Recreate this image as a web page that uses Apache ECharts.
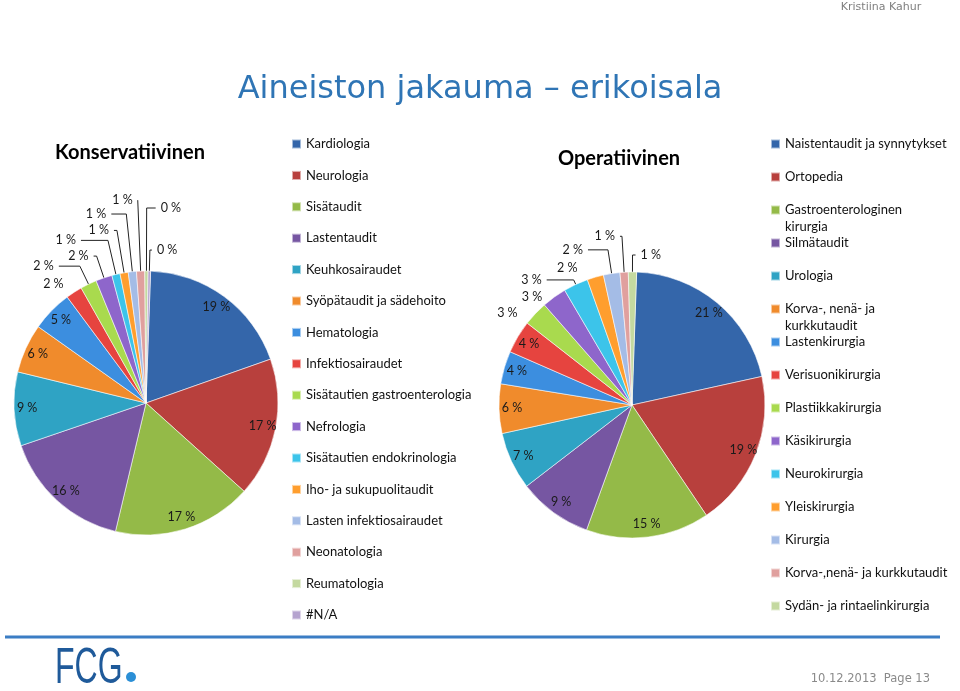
<!DOCTYPE html>
<html><head><meta charset="utf-8">
<script src="https://cdn.jsdelivr.net/npm/echarts@6/dist/echarts.min.js"></script>
<style>html,body{margin:0;padding:0;background:#fff}#c{width:960px;height:691px}</style>
</head><body><div id="c"></div>
<script>
// ---- data ----
const mainTitle = 'Aineiston jakauma – erikoisala';
const konsTitle = 'Konservatiivinen';
const opTitle = 'Operatiivinen';
const author = 'Kristiina Kahur';
const footerText = '10.12.2013  Page 13';

const konsCategories = ['Kardiologia','Neurologia','Sisätaudit','Lastentaudit','Keuhkosairaudet',
  'Syöpätaudit ja sädehoito','Hematologia','Infektiosairaudet','Sisätautien gastroenterologia','Nefrologia',
  'Sisätautien endokrinologia','Iho- ja sukupuolitaudit','Lasten infektiosairaudet','Neonatologia','Reumatologia','#N/A'];
const konsValues = [19,17,17,16,9,6,5,2,2,2,1,1,1,1,0.4,0.3];

const opCategories = ['Naistentaudit ja synnytykset','Ortopedia','Gastroenterologinen kirurgia','Silmätaudit',
  'Urologia','Korva-, nenä- ja kurkkutaudit','Lastenkirurgia','Verisuonikirurgia','Plastiikkakirurgia',
  'Käsikirurgia','Neurokirurgia','Yleiskirurgia','Kirurgia','Korva-,nenä- ja kurkkutaudit','Sydän- ja rintaelinkirurgia'];
const opValues = [21,19,15,9,7,6,4,4,3,3,3,2,2,1,1];

// legend display text for wrapped entries (leading blank line keeps the icon on the first text line)
const legendWrap = {
  'Gastroenterologinen kirurgia': '\nGastroenterologinen\nkirurgia',
  'Korva-, nenä- ja kurkkutaudit': '\nKorva-, nenä- ja\nkurkkutaudit'
};

// ---- styles ----
const palette = ['#3466AA','#B8403D','#94BA48','#7656A2','#2FA3C4','#F08B2C',
  '#3C8EDF','#E6443F','#A9DA4E','#8E66CB','#3CC4EA','#FF9E2E',
  '#A4BCE6','#E0A09E','#C4D9A0','#B5A3CF'];
// leader-line style for the small (outside-labelled) slices: [length, length2, showLine]
const konsLeader = {7:[10,0,false], 8:[20,21,true], 9:[23,3,true], 10:[35,27,true], 11:[43,3,true],
  12:[58,15,true], 13:[71,0,true], 14:[63,9,true], 15:[21,2,true]};
const opLeader = {8:[1,12,false], 9:[0,7,false], 10:[5,27,true], 11:[10,10,false],
  12:[24,20,true], 13:[36,2,true], 14:[17,3,true]};

// ---- chart ----
const chart = echarts.init(document.getElementById('c'));
const pctFmt = p => Math.round(p.percent) + ' %';
const labelFont = {fontFamily:'Lato', fontSize:12.5, color:'#1a1a1a'};

function pieSeries(names, values, center, r, bigCount, ghostR, leader){
  return [{
    type:'pie', center:center, radius:r, startAngle:88, clockwise:true, silent:true,
    avoidLabelOverlap:false,
    data: names.map((n,i)=>{
      const ld = leader[i];
      return ld ? {name:n, value:values[i], label:{show:true},
        labelLine:{show:ld[2], length:ld[0], length2:ld[1]}}
        : {name:n, value:values[i], label:{show:false}, labelLine:{show:false}};
    }),
    label:Object.assign({position:'outside', formatter:pctFmt, distanceToLabelLine:5}, labelFont),
    labelLine:{lineStyle:{color:'#222', width:1}},
    itemStyle:{borderColor:'rgba(255,255,255,0.55)', borderWidth:1},
    emphasis:{disabled:true}
  },{
    type:'pie', center:center, radius:ghostR, startAngle:88, clockwise:true, silent:true,
    data: names.map((n,i)=>({name:n, value:values[i],
      itemStyle:{color:'rgba(0,0,0,0)'}, label:{show:i<bigCount}})),
    label:Object.assign({position:'inside', formatter:pctFmt}, labelFont),
    labelLine:{show:false},
    emphasis:{disabled:true}
  }];
}

function legends(names, left, slotY){
  return names.map((n,i)=>{
    const wrapped = legendWrap[n];
    const c = slotY(i);
    return {
      orient:'vertical', left:left, top: wrapped ? c - 25.5 : c - 8.5,
      padding:0, itemWidth:9, itemHeight:9, icon:'rect', selectedMode:false,
      data:[n],
      formatter: name => legendWrap[name] || name,
      textStyle:{fontFamily:'Lato', fontSize:13, color:'#111', lineHeight:17}
    };
  });
}

const option = {
  color: palette,
  animation:false,
  legend: legends(konsCategories, 291, i => 144 + i*31.4)
    .concat(legends(opCategories, 770, i => 144 + i*33)),
  series: pieSeries(konsCategories, konsValues, [146,403], 132, 7, [96,136], konsLeader)
    .concat(pieSeries(opCategories, opValues, [632,405], 133, 8, [100,134], opLeader)),
  graphic: [
    {type:'text', x:480, y:90, style:{text:mainTitle, font:'32px "DejaVu Sans"', fill:'#2F75B5', align:'center', verticalAlign:'middle'}},
    {type:'text', x:130, y:153, style:{text:konsTitle, font:'bold 20px Lato', fill:'#000', align:'center', verticalAlign:'middle'}},
    {type:'text', x:619, y:159, style:{text:opTitle, font:'bold 20px Lato', fill:'#000', align:'center', verticalAlign:'middle'}},
    {type:'text', x:881, y:7, style:{text:author, font:'11px "DejaVu Sans"', fill:'#7f7f7f', align:'center', verticalAlign:'middle'}},
    {type:'line', shape:{x1:5, y1:637, x2:940, y2:637}, style:{stroke:'#3B7DC4', lineWidth:3}},
    {type:'text', x:55, y:669, scaleX:0.64, style:{text:'FCG', font:'50px "Liberation Sans"', fill:'#1F5A9A', align:'left', verticalAlign:'middle'}},
    {type:'circle', shape:{cx:131, cy:677, r:5}, style:{fill:'#2B8FD6'}},
    {type:'text', x:930, y:679, style:{text:footerText, font:'11.5px "DejaVu Sans"', fill:'#8a8a8a', align:'right', verticalAlign:'middle'}}
  ]
};
chart.setOption(option);
</script></body></html>
